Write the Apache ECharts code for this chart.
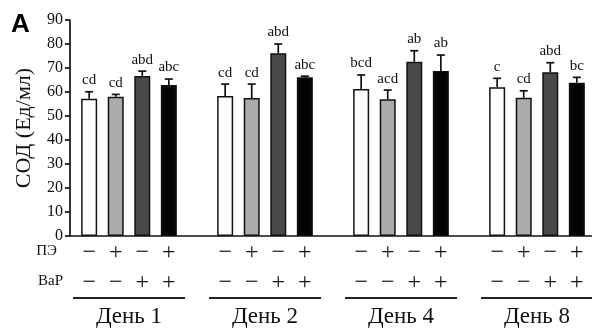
<!DOCTYPE html>
<html><head><meta charset="utf-8">
<script src="https://cdn.jsdelivr.net/npm/echarts@6/dist/echarts.min.js"></script>
<style>html,body{margin:0;padding:0;background:#fff}#c{width:592px;height:329px}</style>
</head><body><div id="c"></div>
<script>
const days = ['День 1', 'День 2', 'День 4', 'День 8'];
const groupNames = ['Контроль', 'ПЭ', 'BaP', 'ПЭ+BaP'];
const peSigns = ['−', '+', '−', '+'];
const bapSigns = ['−', '−', '+', '+'];
const yTicks = [0, 10, 20, 30, 40, 50, 60, 70, 80, 90];

const control = [57.2, 58.3, 61.2, 62.0];
const controlErr = [2.9, 5.0, 5.9, 3.7];
const pe = [58.0, 57.5, 57.0, 57.6];
const peErr = [1.0, 5.8, 3.8, 2.9];
const bap = [66.7, 76.1, 72.6, 68.2];
const bapErr = [2.0, 3.9, 4.6, 4.0];
const pebap = [62.9, 66.1, 68.7, 63.9];
const pebapErr = [2.5, 0.5, 6.7, 2.2];

const controlLetters = ['cd', 'cd', 'bcd', 'c'];
const peLetters = ['cd', 'cd', 'acd', 'cd'];
const bapLetters = ['abd', 'abd', 'ab', 'abd'];
const pebapLetters = ['abc', 'abc', 'ab', 'bc'];

const colors = ['#ffffff', '#ababab', '#4a4a4a', '#050505'];
const SERIF = '"Liberation Serif", "Times New Roman", serif';
const BAR_W = 16, GAP_PCT = 0.66, STEP = BAR_W * (1 + GAP_PCT);

const values = [control, pe, bap, pebap];
const errs = [controlErr, peErr, bapErr, pebapErr];
const letters = [controlLetters, peLetters, bapLetters, pebapLetters];

const chart = echarts.init(document.getElementById('c'), null, {renderer: 'canvas'});

const barSeries = values.map((v, j) => ({
  name: groupNames[j], type: 'bar', barWidth: BAR_W, barGap: (GAP_PCT * 100) + '%',
  itemStyle: {color: colors[j], borderColor: '#111', borderWidth: 1.5},
  data: v, z: 2
}));

const errSeries = values.map((v, j) => ({
  type: 'custom', z: 5,
  renderItem(params, api) {
    const ci = api.value(0), val = api.value(1), e = api.value(2);
    const base = api.coord([ci, val]);
    const top = api.coord([ci, val + e]);
    const x = base[0] + (j - 1.5) * STEP;
    return {type: 'group', children: [
      {type: 'line', shape: {x1: x, y1: base[1], x2: x, y2: top[1]}, style: {stroke: '#111', lineWidth: 1.7}},
      {type: 'line', shape: {x1: x - 4, y1: top[1], x2: x + 4, y2: top[1]}, style: {stroke: '#111', lineWidth: 1.7}},
      {type: 'text', x: x, y: top[1] - 4, style: {text: letters[j][ci], align: 'center', verticalAlign: 'bottom', font: '15px ' + SERIF, fill: '#111'}}
    ]};
  },
  data: v.map((val, i) => [i, val, errs[j][i]])
}));

function signRow(signs) {
  return () => signs.map(s => '{s|' + s + '}').join('');
}
const signRich = {s: {width: STEP, align: 'center', fontSize: 24, fontFamily: SERIF, color: '#111'}};

const gridLeft = 61, yOff = -9;
chart.setOption({
  animation: false,
  grid: {left: gridLeft, width: 544, top: 20, bottom: 93, outerBoundsMode: 'none', containLabel: false},
  xAxis: [
    {type: 'category', data: days, axisLine: {show: false, onZero: false}, axisTick: {show: false},
     axisLabel: {interval: 0, margin: 5, formatter: signRow(peSigns), rich: signRich}},
    {type: 'category', data: days, position: 'bottom', offset: 35, axisLine: {show: false, onZero: false}, axisTick: {show: false},
     axisLabel: {interval: 0, margin: 0, formatter: signRow(bapSigns), rich: signRich}},
    {type: 'category', data: days, position: 'bottom', offset: 61, axisLine: {show: false, onZero: false}, axisTick: {show: false},
     axisLabel: {interval: 0, margin: 0, formatter: d => '{u|}\n{d|' + d + '}',
       rich: {u: {width: 112, height: 2, backgroundColor: '#222'},
              d: {fontSize: 23, fontFamily: SERIF, color: '#111', padding: [6, 0, 0, 0]}}}}
  ],
  yAxis: {type: 'value', min: 0, max: 90, interval: 10, offset: yOff,
    axisLine: {show: true, lineStyle: {color: '#111', width: 1.7}},
    axisTick: {show: true, length: 5, lineStyle: {color: '#111', width: 1.7}},
    splitLine: {show: false},
    axisLabel: {fontSize: 16, fontFamily: SERIF, color: '#111', margin: 7,
      formatter: v => yTicks.includes(v) ? String(v) : ''},
    name: 'СОД (Ед/мл)', nameLocation: 'middle', nameGap: 35,
    nameTextStyle: {fontSize: 22, fontFamily: SERIF, color: '#111'}},
  series: [...barSeries, ...errSeries]
});

const y0 = chart.convertToPixel({yAxisIndex: 0}, 0);
chart.setOption({
  graphic: [
    {type: 'line', shape: {x1: gridLeft - yOff, y1: y0, x2: 592, y2: y0}, style: {stroke: '#111', lineWidth: 1.7}, z: 10},
    {type: 'text', left: 11, top: 12, style: {text: 'A', font: 'bold 26px "Liberation Sans", Arial, sans-serif', fill: '#000'}},
    {type: 'text', right: 592 - 57, top: 244, style: {text: 'ПЭ', font: '15px ' + SERIF, fill: '#111'}},
    {type: 'text', right: 592 - 63, top: 274, style: {text: 'BaP', font: '15px ' + SERIF, fill: '#111'}}
  ]
});
</script></body></html>
